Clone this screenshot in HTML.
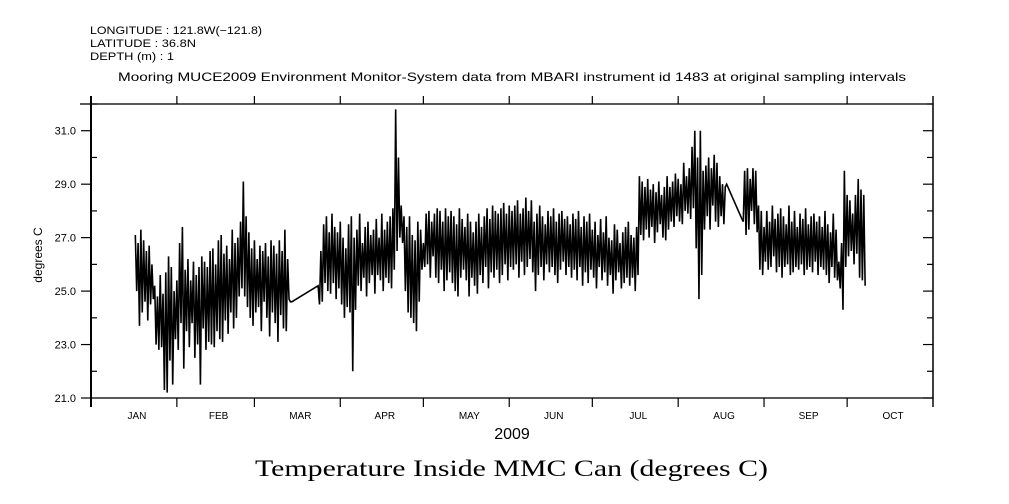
<!DOCTYPE html>
<html><head><meta charset="utf-8"><style>
body{margin:0;background:#fff;}
svg{display:block;font-family:"Liberation Sans",sans-serif;}
</style></head><body>
<svg id="chart" width="1009" height="504" viewBox="0 0 1009 504">
<g font-size="11" fill="#000">
<text x="90" y="34" textLength="172" lengthAdjust="spacingAndGlyphs">LONGITUDE : 121.8W(−121.8)</text>
<text x="90" y="47" textLength="106" lengthAdjust="spacingAndGlyphs">LATITUDE : 36.8N</text>
<text x="90" y="60" textLength="84" lengthAdjust="spacingAndGlyphs">DEPTH (m) : 1</text>
<text x="118" y="81" textLength="788" lengthAdjust="spacingAndGlyphs" font-size="12">Mooring MUCE2009 Environment Monitor-System data from MBARI instrument id 1483 at original sampling intervals</text>
</g>
<g id="axes"></g>
<g id="series"></g>
<text x="42" y="255" font-size="12" text-anchor="middle" transform="rotate(-90 42 255)">degrees C</text>
<text x="512" y="439" font-size="16" text-anchor="middle">2009</text>
<text x="255" y="476" font-size="23" textLength="513" lengthAdjust="spacingAndGlyphs" font-family="'Liberation Serif',serif">Temperature Inside MMC Can (degrees C)</text>
</svg>
<script>
const monthLabels=["JAN","FEB","MAR","APR","MAY","JUN","JUL","AUG","SEP","OCT"];
const monthStarts=[0,31,59,90,120,151,181,212,243,273,304];
const yTicks=[21,22,23,24,25,26,27,28,29,30,31,32];
const yLabels=["21.0","23.0","25.0","27.0","29.0","31.0"];
const seg1Start=16;
const seg1Hi=[27.1,26.8,27.3,26.9,26.5,26.7,26.0,25.2,24.8,25.6,24.9,25.7,26.3,25.9,25.0,25.4,26.8,27.4,25.8,26.2,25.4,26.1,25.6,25.9,26.3,26.1,25.9,26.5,26.6,26.0,26.9,27.1,26.4,26.7,26.2,27.3,26.8,27.0,27.6,29.1,27.8,27.2,26.6,26.9,26.2,26.7,26.5,26.8,26.3,26.9,26.7,26.4,26.9,26.5,27.3,26.2,24.6];
const seg1Lo=[25.0,23.7,24.2,24.6,23.9,24.5,24.7,23.0,22.8,22.9,21.3,21.2,22.4,21.5,23.2,22.8,23.8,22.1,23.5,22.9,23.8,22.5,23.0,21.5,23.6,22.8,23.1,23.0,22.9,23.5,23.2,23.1,23.9,23.4,24.2,23.6,24.0,24.8,25.1,24.8,24.4,24.0,23.7,24.2,24.4,23.5,24.6,24.0,23.3,24.2,23.8,23.1,24.1,23.6,23.5,24.7,24.6];
const seg2Start=82;
const seg2Hi=[25.2,26.5,27.5,27.8,27.2,27.9,27.4,27.2,27.6,27.0,26.6,27.5,27.8,27.0,27.3,27.9,26.8,27.4,27.6,27.1,27.3,27.7,27.0,27.9,27.3,27.6,27.8,28.1,31.8,30.0,28.2,27.8,27.4,27.8,27.1,26.9,27.6,27.3,26.8,27.9,28.0,27.6,27.9,28.1,28.0,27.6,28.1,27.8,28.0,27.8,27.5,28.1,27.7,27.4,27.9,27.6,27.2,27.6,27.9,27.4,27.8,28.1,27.7,28.2,28.0,27.9,28.1,28.3,27.9,28.2,28.0,28.2,28.4,27.9,28.1,28.5,28.0,28.4,27.6,27.9,28.2,27.8,27.5,28.0,27.8,28.1,27.6,27.9,28.0,27.7,27.8,27.5,27.9,27.7,28.0,27.4,27.8,27.6,27.9,27.3,27.6,27.1,27.7,27.2,27.8,27.0,26.9,27.5,27.3,26.8,27.2,27.4,27.6,27.1,27.0,27.4,29.3,29.1,28.9,29.2,28.8,29.0,28.7,29.1,28.6,28.9,29.3,28.9,29.1,29.4,29.2,29.0,29.8,29.3,29.6,30.4,31.0,30.0,31.0,29.5,29.7,30.0,29.6,30.1,29.8,29.3,29.0,28.9];
const seg2Lo=[24.5,24.6,25.3,25.0,24.9,25.3,24.7,25.1,24.5,24.0,24.4,24.2,22.0,24.3,25.2,25.0,25.5,24.8,25.3,25.6,24.9,25.6,25.4,25.0,25.5,25.3,25.1,25.8,26.5,27.0,26.8,25.0,24.2,24.0,23.8,23.5,24.6,25.8,25.9,26.0,25.5,26.3,25.5,25.3,25.8,25.0,25.4,25.7,25.3,25.0,24.8,25.5,25.8,25.4,24.8,25.5,25.2,24.9,25.6,25.3,25.9,25.1,25.7,25.5,25.8,25.3,25.6,26.0,25.4,25.9,25.8,26.0,25.5,26.1,25.6,25.9,26.2,25.7,25.0,25.6,25.9,25.4,26.0,25.7,25.9,25.6,25.3,25.8,26.1,25.6,25.9,25.5,25.8,25.4,25.9,25.2,25.7,25.3,25.8,25.5,25.1,25.9,25.4,25.7,25.2,25.6,24.9,25.4,25.7,25.1,25.3,25.5,25.2,25.5,25.0,25.6,27.1,26.9,27.3,27.0,27.4,26.8,27.2,27.5,27.0,26.9,27.3,27.6,27.4,27.8,27.6,27.5,28.0,27.9,27.7,28.1,26.6,24.7,25.6,27.3,27.8,27.3,28.2,27.6,27.4,27.8,27.5,29.0];
const seg3Start=235;
const seg3Hi=[27.7,29.5,29.6,29.2,29.6,29.5,28.2,28.0,27.4,28.0,27.6,28.2,27.7,27.9,28.1,27.8,27.5,28.2,27.6,28.0,27.4,27.9,27.7,28.1,27.5,27.8,27.9,27.6,27.8,27.4,28.0,27.5,27.2,27.9,27.3,26.1,26.8,29.5,28.6,28.4,27.9,28.6,29.2,28.8,28.6];
const seg3Lo=[27.6,27.1,27.3,28.0,27.5,27.2,25.8,25.6,26.1,25.8,25.9,26.3,25.7,25.9,25.5,25.9,26.0,25.6,25.7,25.9,25.8,26.0,25.6,25.8,25.9,25.7,26.1,25.6,25.9,25.8,25.6,25.3,25.9,25.5,25.4,25.1,24.3,25.9,26.3,26.5,26.0,26.4,25.5,25.4,25.2];

const NS="http://www.w3.org/2000/svg";
const L=91,R=933,T=104,B=398,D0=0,D1=304,Y0=21,Y1=32;
const x=d=>L+(d-D0)/(D1-D0)*(R-L);
const y=v=>B-(v-Y0)/(Y1-Y0)*(B-T);
const axes=document.getElementById('axes');
function mk(tag,attrs,parent){const e=document.createElementNS(NS,tag);for(const k in attrs)e.setAttribute(k,attrs[k]);parent.appendChild(e);return e;}
function line(x1,y1,x2,y2,w,parent){return mk('line',{x1:x1,y1:y1,x2:x2,y2:y2,stroke:'#000','stroke-width':w},parent);}
let fr=mk('rect',{x:L,y:T,width:R-L,height:B-T,fill:'none',stroke:'#000','stroke-width':1.3},axes);


line(80,T,L,T,1.3,axes);line(L,T-8,L,B+9,2,axes);line(R,T-8,R,B+9,1.3,axes);
monthStarts.forEach((d,i)=>{
  line(x(d),T-8,x(d),T,1.2,axes);
  line(x(d),B,x(d),B+9,1.2,axes);
  if(i<monthLabels.length){
    const t=mk('text',{x:(x(d)+x(monthStarts[i+1]))/2+3,y:419,'font-size':10,'text-anchor':'middle'},axes);
    t.textContent=monthLabels[i];
    
    
  }
});
yTicks.forEach(v=>{
  const major=(v%2===1);
  line(L-(major?10:0),y(v),L+(major?0:6),y(v),1.2,axes);
  line(R-(major?10:6),y(v),R,y(v),1.2,axes);
});
yLabels.forEach(s=>{
  const t=mk('text',{x:76,y:y(parseFloat(s))+4,'font-size':11,'text-anchor':'end'},axes);
  t.textContent=s;
  
  
});
const pts=[];
[[seg1Start,seg1Hi,seg1Lo],[seg2Start,seg2Hi,seg2Lo],[seg3Start,seg3Hi,seg3Lo]].forEach(([s,hi,lo])=>{
  hi.forEach((h,i)=>{pts.push(x(s+i)+','+y(h));pts.push(x(s+i+0.5)+','+y(lo[i]));});
});
const pl=mk('polyline',{points:pts.join(' '),fill:'none',stroke:'#000','stroke-width':1.6,'stroke-linejoin':'miter'},document.getElementById('series'));


</script>
</body></html>
